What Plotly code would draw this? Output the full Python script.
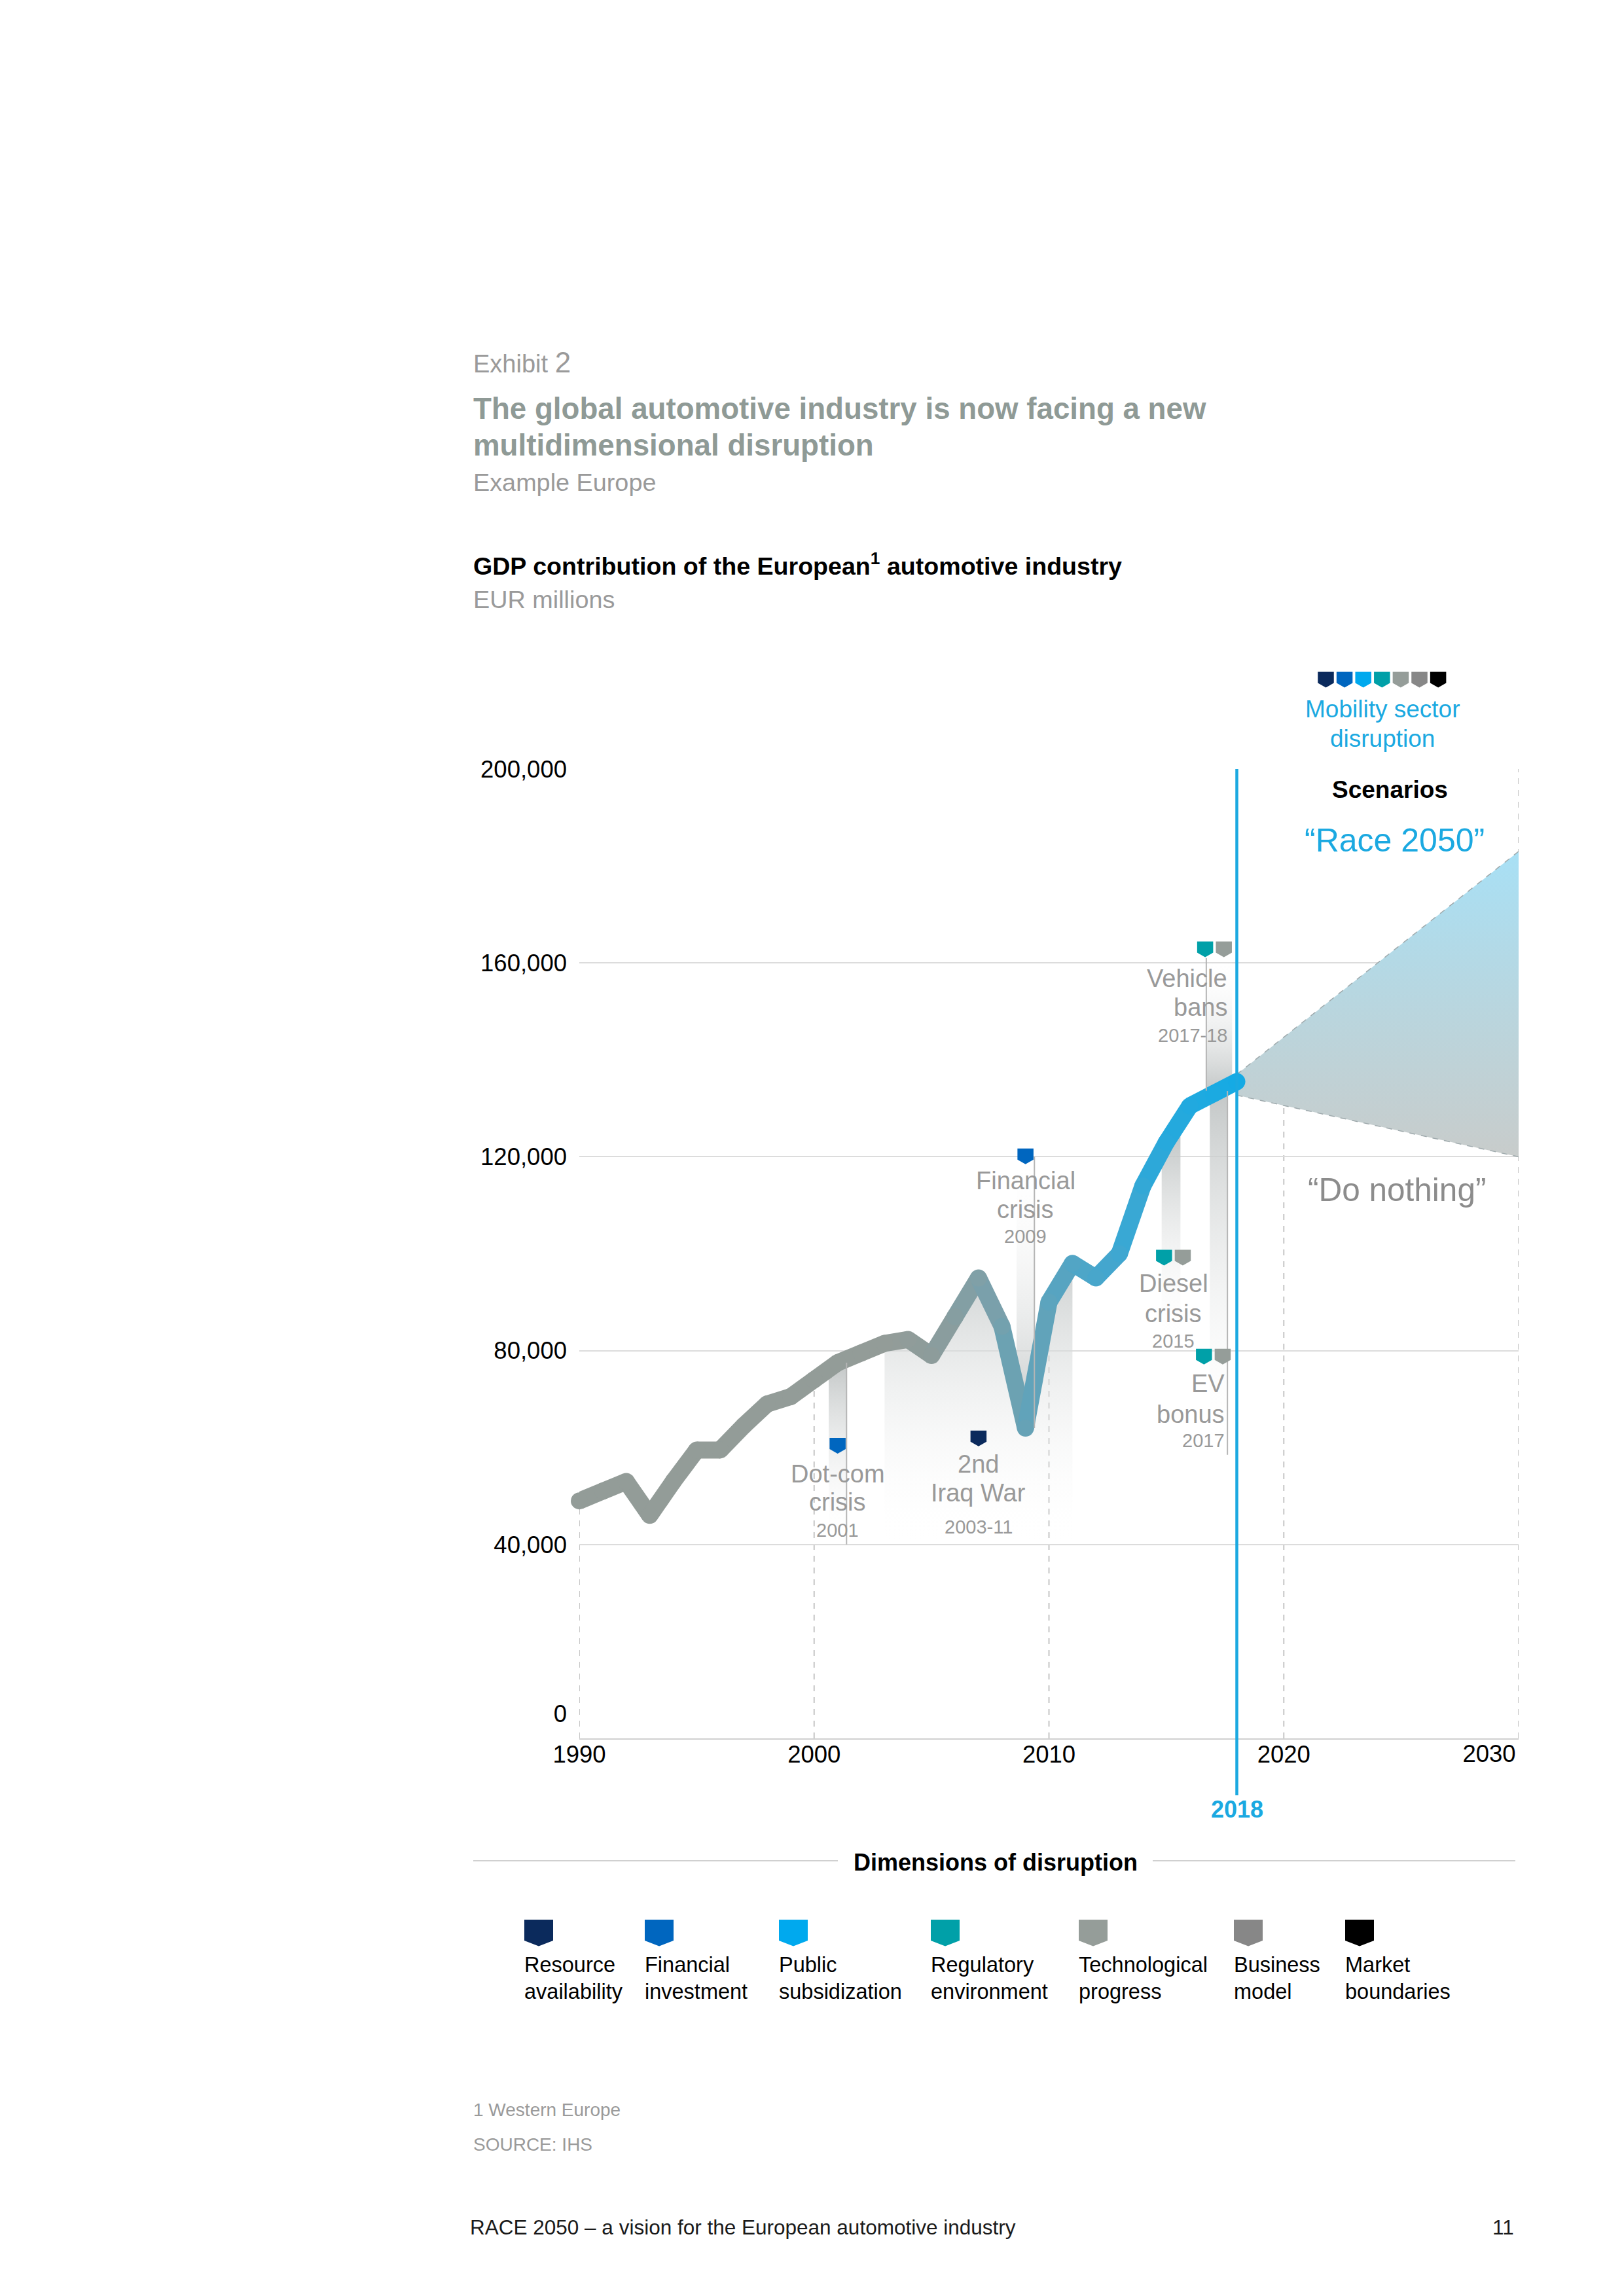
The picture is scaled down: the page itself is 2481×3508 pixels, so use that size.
import numpy as np
import plotly.graph_objects as go

# ---------------- data ----------------
years = list(range(1990, 2019))
gdp = [49000, 51000, 53000, 46000, 53000, 59500, 59500, 64500, 69000, 70500,
       74000, 77500, 79500, 81500, 82300, 79000, 87000, 95000, 85000, 64000,
       90000, 98000, 95000, 100000, 114000, 123000, 130500, 133000, 135500]

scenario_years = [2018, 2030]
race_2050 = [137000, 183000]
do_nothing = [132700, 120000]

x_ticks = [1990, 2000, 2010, 2020, 2030]
y_ticks = [0, 40000, 80000, 120000, 160000, 200000]

dim_names_1 = ["Resource", "Financial", "Public", "Regulatory", "Technological", "Business", "Market"]
dim_names_2 = ["availability", "investment", "subsidization", "environment", "progress", "model", "boundaries"]
dim_colors = ["#0B2A5C", "#0066BF", "#00A9EE", "#00A0A8", "#959D99", "#878787", "#000000"]

event_label_1 = ["Dot-com", "2nd", "Financial", "Diesel", "EV", "Vehicle"]
event_label_2 = ["crisis", "Iraq War", "crisis", "crisis", "bonus", "bans"]
event_period = ["2001", "2003-11", "2009", "2015", "2017", "2017-18"]
event_dims = [[1], [0], [1], [3, 4], [3, 4], [3, 4]]
event_icon_x = [2001, 2007, 2009, 2015.3, 2017.0, 2017.05]
event_icon_top = [62000, 63500, 121700, 100800, 80400, 164400]
event_bar_x0 = [2000.62, 2003, 2008.62, 2014.8, 2016.85, 2016.7]
event_bar_x1 = [2001.38, 2011, 2009.38, 2015.6, 2017.6, 2017.8]
event_bar_far = [40000, 40000, 120000, 81000, 58500, 161000]
event_edge = ["right", None, "right", None, "right", "left"]
event_label_x = [2001, 2007, 2009, 2015.3, 2017.55, 2017.65]
event_label_align = ["center", "center", "center", "center", "right", "right"]
event_label_y = [[54600, 48700, 42900], [56600, 50600, 43600], [115100, 109100, 103600],
                 [93800, 87700, 82000], [73200, 66900, 61400], [156800, 150800, 145100]]

# ---------------- styling / geometry (reference page pixels) ----------------
PAGE_W, PAGE_H = 2481, 3508
OFF = 8  # default body margin of the html page
W, H = PAGE_W - 2 * OFF, PAGE_H - 2 * OFF
L, R, T, B = 885, 2320, 1174.5, 2656
FONT = "Liberation Sans, Arial, sans-serif"
BLUE = "#1BA9E1"
GREY_TXT = "#9A9A9A"
TITLE_GREY = "#8F9A96"
EV_GREY = "#999999"


def px_x(X):
    return (X - L) / (R - L)


def px_y(Y):
    return (B - Y) / (B - T)


def hex2rgb(h):
    h = h.lstrip("#")
    return tuple(int(h[i:i + 2], 16) for i in (0, 2, 4))


color_stops = [(1990, "#939C98"), (2003, "#939C98"), (2005, "#8D9C9B"), (2007, "#80A0A7"),
               (2009, "#66A2B6"), (2011, "#52A5C5"), (2013, "#3FA7D1"), (2015, "#27A9DC"),
               (2018, "#15AAE4")]


def line_color(yr):
    xs = [s[0] for s in color_stops]
    rgbs = [hex2rgb(s[1]) for s in color_stops]
    c = [int(round(np.interp(yr, xs, [r[k] for r in rgbs]))) for k in range(3)]
    return "rgb({},{},{})".format(*c)


def pennant(xa, ya, color, w, hr, hp, xref="x", yref="y", dx=0.0):
    path = (f"M{dx - w / 2},0 L{dx + w / 2},0 L{dx + w / 2},{-hr} "
            f"L{dx},{-(hr + hp)} L{dx - w / 2},{-hr} Z")
    return dict(type="path", xref=xref, yref=yref, xsizemode="pixel", ysizemode="pixel",
                xanchor=xa, yanchor=ya, path=path, fillcolor=color,
                line=dict(width=0), layer="above")


fig = go.Figure()

# ---------------- event bands ----------------
shapes = []
for i in range(len(event_label_1)):
    x0, x1 = event_bar_x0[i], event_bar_x1[i]
    far = event_bar_far[i]
    if x1 - x0 > 2:  # wide band following the line
        inner = [yr for yr in years if x0 <= yr <= x1]
        xs = [x0] + inner + [x1]
        top = [float(np.interp(v, years, gdp)) for v in xs]
        px_ = xs + [x1, x0, x0]
        py_ = top + [far, far, top[0]]
        near = max(top)
        dark = "rgba(200,204,204,0.9)"
    else:
        near = float(np.interp((x0 + x1) / 2, years, gdp))
        px_ = [x0, x1, x1, x0, x0]
        py_ = [far, far, near, near, far]
        dark = "rgba(192,196,196,0.95)"
    light = "rgba(255,255,255,0.0)"
    lo, hi = min(near, far), max(near, far)
    if near > far:
        cs = [[0, light], [1, dark]]
    else:
        cs = [[0, dark], [1, light]]
    fig.add_trace(go.Scatter(x=px_, y=py_, mode="lines", fill="toself", line=dict(width=0),
                             fillgradient=dict(type="vertical", colorscale=cs, start=lo, stop=hi),
                             hoverinfo="skip", showlegend=False))
    if event_edge[i] is not None:
        ex = x1 if event_edge[i] == "right" else x0
        shapes.append(dict(type="line", xref="x", yref="y", x0=ex, x1=ex, y0=lo, y1=hi,
                           line=dict(color="#B5B5B5", width=2), layer="above"))

# ---------------- scenario fan ----------------
fig.add_trace(go.Scatter(
    x=scenario_years + scenario_years[::-1] + [scenario_years[0]],
    y=race_2050 + do_nothing[::-1] + [race_2050[0]],
    mode="lines", fill="toself", line=dict(width=0),
    fillgradient=dict(type="vertical",
                      colorscale=[[0, "#C8CCCB"], [0.45, "#BAD5DD"], [1, "#A8E0F5"]],
                      start=min(do_nothing), stop=max(race_2050)),
    hoverinfo="skip", showlegend=False))
for s in (race_2050, do_nothing):
    fig.add_trace(go.Scatter(x=scenario_years, y=s, mode="lines",
                             line=dict(color="#9FAAAD", width=1.5, dash="dash"),
                             hoverinfo="skip", showlegend=False))

# ---------------- main line (gradient) ----------------
LW = 26
for i in range(len(years) - 1):
    fig.add_trace(go.Scatter(x=years[i:i + 2], y=gdp[i:i + 2], mode="lines", cliponaxis=False,
                             line=dict(color=line_color((years[i] + years[i + 1]) / 2), width=LW),
                             hoverinfo="skip", showlegend=False))
fig.add_trace(go.Scatter(x=years, y=gdp, mode="markers", cliponaxis=False,
                         marker=dict(size=LW, color=[line_color(y) for y in years], line=dict(width=0)),
                         hoverinfo="skip", showlegend=False))

# invisible anchor trace for the secondary (label-only) axes
fig.add_trace(go.Scatter(x=[x_ticks[-1]], y=[y_ticks[0]], xaxis="x2", yaxis="y2", mode="markers",
                         marker=dict(opacity=0), hoverinfo="skip", showlegend=False))

# ---------------- shapes ----------------
for yr in x_ticks:
    if yr <= years[-1]:
        top = float(np.interp(yr, years, gdp))
    elif yr < scenario_years[-1]:
        top = float(np.interp(yr, scenario_years, do_nothing))
    else:
        top = y_ticks[-1]
    shapes.append(dict(type="line", xref="x", yref="y", x0=yr, x1=yr, y0=0, y1=top,
                       line=dict(color="#C6C6C6", width=2, dash="dash"), layer="below"))

shapes.append(dict(type="line", xref="x", yref="paper", x0=2018, x1=2018, y0=px_y(2743), y1=1,
                   line=dict(color=BLUE, width=4.5), layer="above"))

for i in range(len(event_label_1)):
    dims = event_dims[i]
    n = len(dims)
    for j, d in enumerate(dims):
        dx = (j - (n - 1) / 2) * 28.6
        shapes.append(pennant(event_icon_x[i], event_icon_top[i], dim_colors[d], 24.5, 17, 7, dx=dx))

for k, c in enumerate(dim_colors):
    shapes.append(pennant(px_x(2025.5 + k * 28.6), px_y(1026), c, 24.5, 17, 7,
                          xref="paper", yref="paper"))

legend_left = [801, 985, 1190, 1422, 1648, 1885, 2055]
for k, c in enumerate(dim_colors):
    shapes.append(pennant(px_x(legend_left[k] + 22), px_y(2933), c, 44, 32, 8.5,
                          xref="paper", yref="paper"))

for a, b in ((723, 1280), (1761, 2315)):
    shapes.append(dict(type="line", xref="paper", yref="paper", x0=px_x(a), x1=px_x(b),
                       y0=px_y(2843), y1=px_y(2843), line=dict(color="#D0D0D0", width=2)))

# ---------------- annotations ----------------
anns = []


def ann(text, X, Y, size, color, xanchor="left", bold=False):
    anns.append(dict(text=f"<b>{text}</b>" if bold else text, x=px_x(X), y=px_y(Y),
                     xref="paper", yref="paper", xanchor=xanchor, yanchor="middle",
                     showarrow=False, font=dict(size=size, color=color, family=FONT)))


ann("Exhibit <span style='font-size:44px'>2</span>", 721, 553, 38, GREY_TXT)
ann("The global automotive industry is now facing a new", 721, 624, 45.7, TITLE_GREY, bold=True)
ann("multidimensional disruption", 721, 680, 45.7, TITLE_GREY, bold=True)
ann("Example Europe", 721, 736, 37.8, GREY_TXT)
ann("GDP contribution of the European<sup>1</sup> automotive industry", 721, 861, 37.6, "#000000", bold=True)
ann("EUR millions", 721, 915, 37.8, GREY_TXT)
ann("Mobility sector", 2112, 1083, 37, BLUE, "center")
ann("disruption", 2112, 1128, 37, BLUE, "center")
ann("Scenarios", 2123, 1206, 37, "#000000", "center", bold=True)
ann("\u201cRace 2050\u201d", 2130, 1284, 50, BLUE, "center")
ann("\u201cDo nothing\u201d", 2134, 1817, 49.5, "#8C8C8C", "center")
ann("Dimensions of disruption", 1521, 2846, 36, "#000000", "center", bold=True)
for k in range(len(dim_names_1)):
    ann(dim_names_1[k], legend_left[k] - 2, 3002, 32.5, "#000000")
    ann(dim_names_2[k], legend_left[k] - 2, 3043, 32.5, "#000000")
ann("1 Western Europe", 721, 3224, 28, GREY_TXT)
ann("SOURCE: IHS", 721, 3277, 28, GREY_TXT)
ann("RACE 2050 \u2013 a vision for the European automotive industry", 716, 3403, 31.5, "#1A1A1A")
ann("11", 2315, 3403, 31.5, "#1A1A1A", "right")

anns.append(dict(text="<b>2018</b>", x=2018, y=px_y(2765), xref="x", yref="paper",
                 xanchor="center", yanchor="middle", showarrow=False,
                 font=dict(size=36, color=BLUE, family=FONT)))

for i in range(len(event_label_1)):
    texts = [event_label_1[i], event_label_2[i], event_period[i]]
    sizes = [38, 38, 29]
    for t, s, yv in zip(texts, sizes, event_label_y[i]):
        anns.append(dict(text=t, x=event_label_x[i], y=yv, xref="x", yref="y",
                         xanchor=event_label_align[i], yanchor="middle", showarrow=False,
                         font=dict(size=s, color=EV_GREY, family=FONT)))

tick_font = dict(size=36.5, color="#000000", family=FONT)
x_range = [x_ticks[0], x_ticks[-1]]
y_range = [y_ticks[0], y_ticks[-1]]

fig.update_layout(
    width=W, height=H,
    margin=dict(l=L - OFF, r=W - (R - OFF), t=T - OFF, b=H - (B - OFF), pad=0),
    paper_bgcolor="white", plot_bgcolor="white",
    showlegend=False, hovermode=False,
    font=dict(family=FONT, color="#000000"),
    shapes=shapes, annotations=anns,
    xaxis=dict(range=x_range, tickvals=x_ticks[:-1], ticktext=[str(t) for t in x_ticks[:-1]],
               showgrid=False, zeroline=False, showline=True, linecolor="#D0D0D0", linewidth=2,
               ticks="", tickfont=tick_font, ticklabelstandoff=-9, fixedrange=True),
    yaxis=dict(range=y_range, tickvals=y_ticks[1:], tickformat=",",
               showgrid=True, gridcolor="#DCDCDC", gridwidth=2, zeroline=False, showline=False,
               ticks="", tickfont=tick_font, ticklabelstandoff=18, fixedrange=True),
    # label-only axes: "2030" sits left of its line, "0" is lifted above the baseline (as in the exhibit)
    xaxis2=dict(range=x_range, overlaying="x", anchor="y", side="bottom", tickvals=[x_ticks[-1]],
                ticktext=[str(x_ticks[-1])], showgrid=False, zeroline=False, showline=False,
                ticks="", tickfont=tick_font, ticklabelstandoff=-2, ticklabelshift=-45,
                fixedrange=True),
    yaxis2=dict(range=y_range, overlaying="y", anchor="x", side="left", tickvals=[y_ticks[0]],
                tickformat=",", showgrid=False, zeroline=False, showline=False,
                ticks="", tickfont=tick_font, ticklabelstandoff=18, ticklabelshift=-38,
                fixedrange=True),
)

fig.write_html("out.html", config={"displayModeBar": False})
